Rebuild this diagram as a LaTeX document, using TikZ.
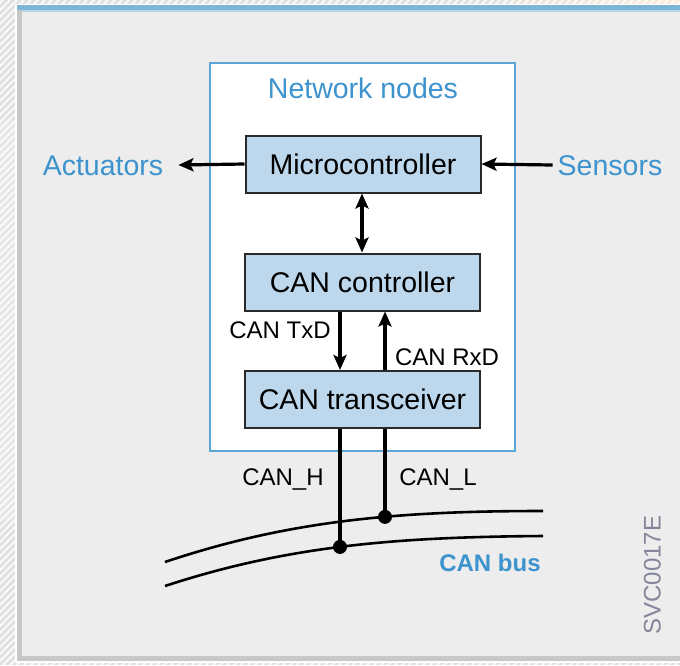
\documentclass[tikz,border=0pt]{standalone}
\usepackage{fontspec}
\setmainfont{Liberation Sans}
\usetikzlibrary{arrows.meta,calc}

\definecolor{panelgray}{HTML}{ECEDEC}
\definecolor{framegray}{HTML}{C6C7C7}
\definecolor{topblue}{HTML}{7DB5D7}
\definecolor{labelblue}{HTML}{3C93CE}
\definecolor{groupblue}{HTML}{5CA6D6}
\definecolor{unitfill}{HTML}{BDD8EC}
\definecolor{unitdraw}{HTML}{2A2A2A}
\definecolor{codegray}{HTML}{85859A}

\tikzset{
  bigtext/.style={font=\fontsize{28.5}{30}\selectfont, text height=20.5pt, text depth=0pt, inner sep=0pt},
  smalltext/.style={font=\fontsize{24}{26}\selectfont, text height=17.2pt, text depth=0pt, inner sep=0pt},
  unit/.style={bigtext, draw=unitdraw, fill=unitfill, line width=2pt,
               minimum width=235pt, minimum height=57pt, text=black},
  bluelabel/.style={bigtext, text=labelblue},
  wire/.style={line width=3.2pt, black},
  sig/.style={wire, -{Stealth[length=15pt, width=13pt, inset=3pt]}},
  bisig/.style={wire, {Stealth[length=15pt, width=13pt, inset=3pt]}-{Stealth[length=15pt, width=13pt, inset=3pt]}},
  busline/.style={line width=2.6pt, black},
  joint/.style={circle, fill=black, inner sep=0pt, minimum size=14pt}
}

\begin{document}
\begin{tikzpicture}[x=1pt, y=-1pt]
\useasboundingbox (0,0) rectangle (680,665);

% hatched backdrop around the panel
\fill[gray!25] (0,0) rectangle (680,665);
\shade[top color=gray!20, middle color=gray!55, bottom color=gray!20] (0,120) rectangle (17,520);
\shade[left color=gray!25, middle color=brown!35!gray!60, right color=orange!15!white] (470,0) rectangle (680,6);
\begin{scope}
  \clip (0,0) rectangle (680,665);
  \foreach \k in {-690,-683,...,690}
    \draw[white, line width=2.2pt, opacity=0.8] (\k,665) -- (\k+665,0);
\end{scope}

% panel with its frame
\fill[white] (15,4) rectangle (680,663);
\fill[framegray] (17,6) rectangle (680,661);
\fill[panelgray] (22,10) rectangle (680,656);
\fill[topblue] (17,5) rectangle (680,10);
\fill[topblue!45!panelgray] (22,10) rectangle (680,12);

% network node group
\node[draw=groupblue, fill=white, line width=1.7pt, minimum width=305pt, minimum height=388pt, inner sep=0pt]
  (group) at (362.5,257) {};
\node[bluelabel] (grouptitle) at (363,88) {Network nodes};

% units
\node[unit] (mc) at (363,164) {Microcontroller};
\node[unit] (cc) at (362.5,282) {CAN controller};
\node[unit] (tr) at (362.5,399.5) {CAN transceiver};

% periphery
\node[bluelabel] (act) at (103,165) {Actuators};
\node[bluelabel] (sen) at (610,165) {Sensors};
\draw[sig] (mc.west) -- ([xshift=15pt]act.east);
\draw[sig] ([xshift=-5pt]sen.west) -- (mc.east);
\draw[bisig] (mc.south -| 362,0) -- (cc.north -| 362,0);

% transmit / receive lines
\coordinate (hx) at (340,0);
\coordinate (lx) at (385,0);
\draw[sig] (cc.south -| hx) -- (tr.north -| hx);
\draw[sig] (tr.north -| lx) -- (cc.south -| lx);
\node[smalltext] (txd) at (280,330) {CAN TxD};
\node[smalltext] (rxd) at (447,357) {CAN RxD};

% bus
\draw[busline] (165,562) .. controls (290,520) and (400,511) .. coordinate[pos=0.6] (lbus) (543,511);
\draw[busline] (165,586) .. controls (290,545) and (400,537) .. coordinate[pos=0.48] (hbus) (543,536);
\node[joint] (jh) at (hx |- hbus) {};
\node[joint] (jl) at (lx |- lbus) {};
\draw[wire] (tr.south -| hx) -- (jh.center);
\draw[wire] (tr.south -| lx) -- (jl.center);
\node[smalltext] (canh) at (283,477) {CAN\_H};
\node[smalltext] (canl) at (438,477) {CAN\_L};
\node[smalltext, font=\fontsize{24}{26}\bfseries\selectfont, text=labelblue] (busname) at (490,563) {CAN bus};

% drawing code
\node[smalltext, text=codegray, rotate=90] (code) at (652,575) {SVC0017E};
\end{tikzpicture}
\end{document}
